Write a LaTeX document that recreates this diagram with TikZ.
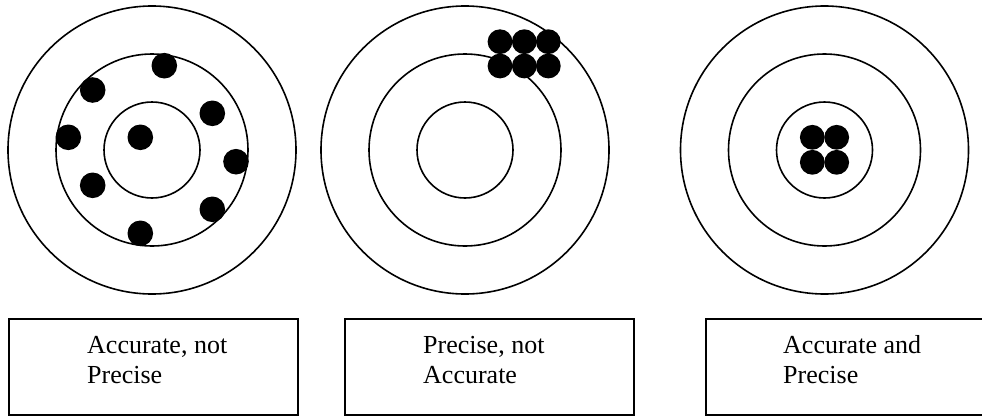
\documentclass[tikz,border=0pt]{standalone}
\usepackage{fontspec}
\setmainfont{Liberation Serif}
\begin{document}
\begin{tikzpicture}[x=1pt,y=-1pt,
  ring/.style={line width=1.6pt},
  dot/.style={fill=black},
  labelbox/.style={draw, line width=2pt, rectangle, minimum width=289pt, minimum height=96pt, anchor=north west, inner sep=0pt},
  caption/.style={anchor=base west, align=left, inner sep=0pt, font=\fontsize{26}{30}\selectfont}]
\useasboundingbox (0,0) rectangle (982,415);
% targets
\coordinate (c1) at (152,150);
\coordinate (c2) at (465,150);
\coordinate (c3) at (824.5,150);
\foreach \c in {c1,c2,c3}{
  \draw[ring] (\c) circle[radius=144];
  \draw[ring] (\c) circle[radius=96];
  \draw[ring] (\c) circle[radius=48];
}
% target 1 dots
\foreach \p in {(164.3,65.7),(92.7,90),(212.3,113.3),(68.3,137.3),(140.3,137.3),(236,161.7),(92.7,185.3),(212.3,209.3),(140.3,233.3)}
  \fill[dot] \p circle[radius=12.8];
% target 2 dots
\foreach \x in {500,524.3,548.3}{
  \fill[dot] (\x,41.7) circle[radius=12.4];
  \fill[dot] (\x,66) circle[radius=12.4];
}
% target 3 dots
\foreach \x in {812.3,836.7}{
  \fill[dot] (\x,137.3) circle[radius=12.4];
  \fill[dot] (\x,162.3) circle[radius=12.4];
}
% boxes
\node[labelbox] (b1) at (8,318) {};
\node[labelbox] (b2) at (344,318) {};
\node[labelbox] (b3) at (704.5,318) {};
\node[caption] (t1) at ([xshift=79pt,yshift=-65.3pt]b1.north west) {Accurate, not\\Precise};
\node[caption] (t2) at ([xshift=79pt,yshift=-65.3pt]b2.north west) {Precise, not\\Accurate};
\node[caption] (t3) at ([xshift=78.5pt,yshift=-65.3pt]b3.north west) {Accurate and\\Precise};
\end{tikzpicture}
\end{document}
